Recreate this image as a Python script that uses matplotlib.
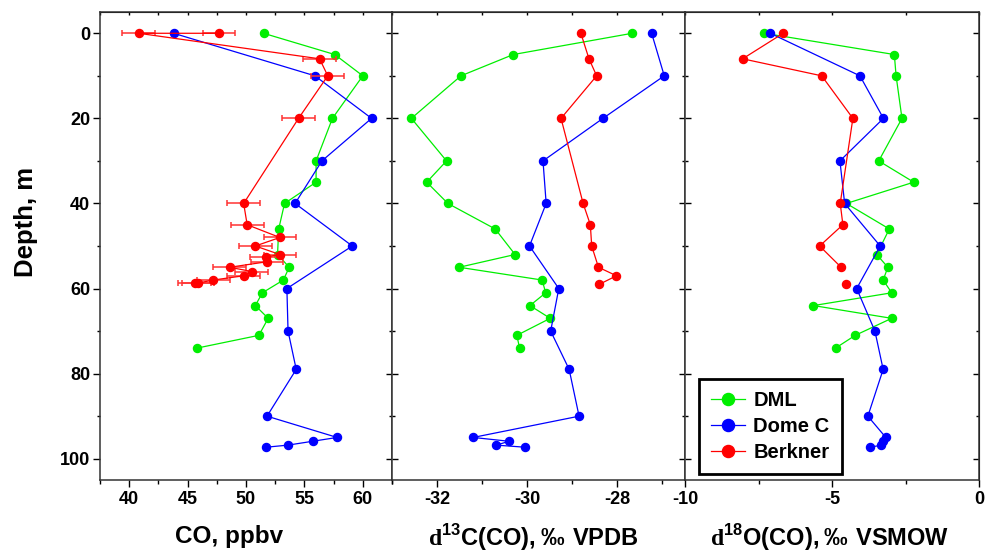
import matplotlib
matplotlib.use('Agg')
import matplotlib.pyplot as plt
import numpy as np
from matplotlib.ticker import MultipleLocator

plt.rcParams['font.family'] = ['Liberation Sans', 'DejaVu Sans']
plt.rcParams['font.weight'] = 'bold'
plt.rcParams['axes.unicode_minus'] = False
plt.rcParams['mathtext.fontset'] = 'custom'
plt.rcParams['mathtext.rm'] = 'Liberation Serif'
plt.rcParams['mathtext.bf'] = 'Liberation Sans:bold'

# DML
dml_depth = [0, 5, 10, 20, 30, 35, 40, 46, 52, 55, 58, 61, 64, 67, 71, 74]
dml_co = [51.5, 57.6, 60.0, 57.4, 56.0, 56.0, 53.3, 52.8, 52.7, 53.7, 53.2,
          51.4, 50.8, 51.9, 51.1, 45.8]
dml_d13c = [-27.67, -30.31, -31.47, -32.57, -31.79, -32.23, -31.76, -30.71,
            -30.27, -31.51, -29.67, -29.59, -29.94, -29.49, -30.23, -30.17]
dml_d18o = [-7.30, -2.88, -2.82, -2.62, -3.41, -2.22, -4.51, -3.05, -3.48,
            -3.10, -3.26, -2.97, -5.63, -2.97, -4.21, -4.88]

# Dome C
domec_depth = [0, 10, 20, 30, 40, 50, 60, 70, 79, 90, 95, 95.9, 96.8, 97.3]
domec_co = [43.8, 55.9, 60.75, 56.5, 54.2, 59.1, 53.5, 53.6, 54.3, 51.8,
            57.8, 55.7, 53.6, 51.7]
domec_d13c = [-27.24, -26.96, -28.32, -29.65, -29.58, -29.95, -29.30, -29.48,
              -29.07, -28.85, -31.20, -30.40, -30.69, -30.04]
domec_d18o = [-7.10, -4.05, -3.25, -4.73, -4.57, -3.36, -4.16, -3.54, -3.26,
              -3.78, -3.17, -3.26, -3.32, -3.70]

# Berkner
berk_co_depth = [0, 0, 6, 10, 20, 40, 45, 48, 50, 52, 52.6, 53.7, 55, 56,
                 57, 58, 58.7, 58.8]
berk_co = [47.7, 40.8, 56.3, 57.0, 54.5, 49.8, 50.1, 52.9, 50.8, 52.9, 51.7,
           51.8, 48.6, 50.5, 49.8, 47.2, 45.9, 45.6]
berk_co_err = 1.4
berk_depth = [0, 6, 10, 20, 40, 45, 50, 55, 57, 59]
berk_d13c = [-28.81, -28.63, -28.46, -29.25, -28.76, -28.60, -28.57, -28.42,
             -28.02, -28.40]
berk_d18o = [-6.66, -8.04, -5.35, -4.29, -4.72, -4.63, -5.42, -4.69, np.nan,
             -4.51]

green = '#00ee00'
blue = '#0000ff'
red = '#ff0000'
ms = 5.8
lw = 0.9

fig = plt.figure(figsize=(9.88, 5.6), dpi=100)
H = 560.0
W = 988.0
bot = 80 / H
hgt = 468 / H
ax1 = fig.add_axes([100 / W, bot, 292 / W, hgt])
ax2 = fig.add_axes([392 / W, bot, 293 / W, hgt])
ax3 = fig.add_axes([685 / W, bot, 294 / W, hgt])


def style(ax, xlim, major, minor, left_out):
    ax.set_xlim(xlim)
    ax.set_ylim(105, -5)
    ax.xaxis.set_major_locator(MultipleLocator(major))
    ax.xaxis.set_minor_locator(MultipleLocator(minor))
    ax.yaxis.set_major_locator(MultipleLocator(20))
    ax.yaxis.set_minor_locator(MultipleLocator(10))
    ax.tick_params(axis='x', which='major', direction='out', length=5,
                   width=1, labelsize=13, pad=3)
    ax.tick_params(axis='x', which='minor', direction='out', length=3, width=1)
    ax.tick_params(axis='y', which='major', direction='out' if left_out else 'in',
                   length=5 if left_out else 4, width=1, labelsize=13, pad=2,
                   labelleft=left_out)
    ax.tick_params(axis='y', which='minor', direction='out' if left_out else 'in',
                   length=2, width=1)
    for s in ax.spines.values():
        s.set_linewidth(1.1)
        s.set_color('#333333')
    for lab in ax.get_xticklabels() + ax.get_yticklabels():
        lab.set_fontweight('bold')
    top = ax.secondary_xaxis('top')
    top.xaxis.set_major_locator(MultipleLocator(major))
    top.xaxis.set_minor_locator(MultipleLocator(minor))
    top.tick_params(which='both', direction='in', length=2.5, width=1, labeltop=False)
    right = ax.secondary_yaxis('right')
    right.yaxis.set_major_locator(MultipleLocator(20))
    right.yaxis.set_minor_locator(MultipleLocator(10))
    right.tick_params(which='major', direction='in', length=4, width=1, labelright=False)
    right.tick_params(which='minor', direction='in', length=2, width=1, labelright=False)


# panel 1: CO
ax1.plot(dml_co, dml_depth, '-o', color=green, ms=ms, lw=lw)
ax1.plot(domec_co, domec_depth, '-o', color=blue, ms=ms, lw=lw)
ax1.errorbar(berk_co, berk_co_depth, xerr=berk_co_err, fmt='-o', color=red,
             ecolor='#ff3333', ms=ms, lw=lw, elinewidth=1.1, capsize=2.5,
             capthick=1.1)
style(ax1, (37.5, 62.5), 5, 2.5, True)

# panel 2: d13C
ax2.plot(dml_d13c, dml_depth, '-o', color=green, ms=ms, lw=lw)
ax2.plot(domec_d13c, domec_depth, '-o', color=blue, ms=ms, lw=lw)
ax2.plot(berk_d13c, berk_depth, '-o', color=red, ms=ms, lw=lw)
style(ax2, (-33, -26.5), 2, 1, False)
ax2.set_xticks([-32, -30, -28])

# panel 3: d18O
l1, = ax3.plot(dml_d18o, dml_depth, '-o', color=green, ms=ms, lw=lw, label='DML')
l2, = ax3.plot(domec_d18o, domec_depth, '-o', color=blue, ms=ms, lw=lw, label='Dome C')
l3, = ax3.plot(berk_d18o, berk_depth, '-o', color=red, ms=ms, lw=lw, label='Berkner')
style(ax3, (-10, 0), 5, 2.5, False)

leg = ax3.legend(handles=[l1, l2, l3], loc='lower left',
                 bbox_to_anchor=(0.048, 0.013), borderaxespad=0,
                 prop={'weight': 'bold', 'size': 14.5}, markerscale=1.5,
                 handlelength=1.7, handletextpad=0.4, labelspacing=0.35,
                 borderpad=0.6, fancybox=False, framealpha=1)
leg.get_frame().set_edgecolor('black')
leg.get_frame().set_linewidth(2)

fig.text(26 / W, 1 - 222 / H, 'Depth, m', rotation=90, ha='center', va='center',
         fontsize=18.5, fontweight='bold')
fig.text(229 / W, 1 - 537 / H, 'CO, ppbv', ha='center', va='center',
         fontsize=17.5, fontweight='bold')
fig.text(533 / W, 1 - 538 / H, r'$\mathrm{d}^{\mathbf{13}}\mathbf{C(CO),‰\ VPDB}$',
         ha='center', va='center', fontsize=17)
fig.text(830 / W, 1 - 538 / H, r'$\mathrm{d}^{\mathbf{18}}\mathbf{O(CO),‰\ VSMOW}$',
         ha='center', va='center', fontsize=17)

fig.savefig('out.png', dpi=100)
